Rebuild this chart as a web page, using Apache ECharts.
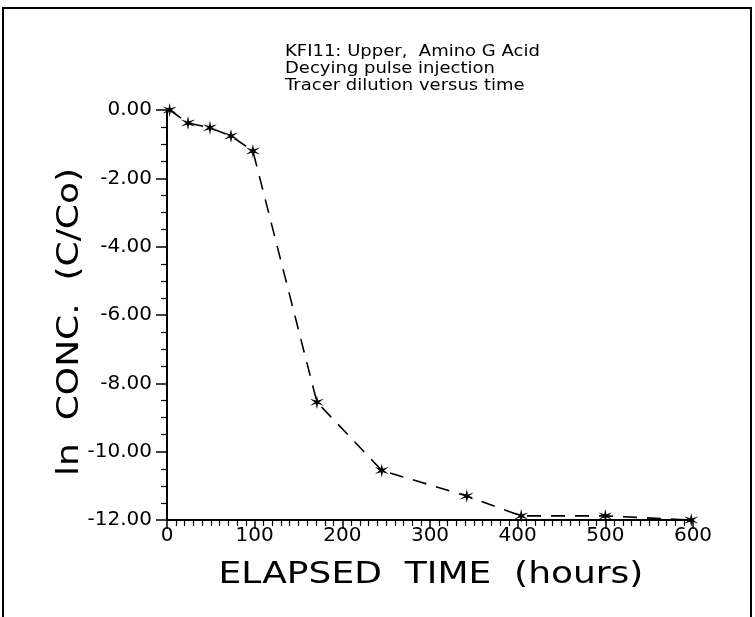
<!DOCTYPE html>
<html><head><meta charset="utf-8">
<script src="https://cdn.jsdelivr.net/npm/echarts@6/dist/echarts.min.js"></script>
<style>html,body{margin:0;padding:0;background:#fff}#c{width:755px;height:617px}</style>
</head><body><div id="c"></div>
<script>
const hours = [3, 24, 49, 73, 98, 171, 245, 342, 404, 500, 598];
const lnConc = [0.0, -0.38, -0.52, -0.76, -1.2, -8.55, -10.55, -11.3, -11.88, -11.88, -12.0];
const titleLines = ['KFI11: Upper,  Amino G Acid', 'Decying pulse injection', 'Tracer dilution versus time'];
const xName = 'ELAPSED  TIME  (hours)';
const yName = 'ln  CONC.  (C/Co)';

function asterisk() {
  let pts = [];
  for (let k = 0; k < 12; k++) {
    const a = (-90 + k * 30) * Math.PI / 180;
    const r = k % 2 === 0 ? 10 : 2.8;
    pts.push((10 + r * Math.cos(a)).toFixed(2) + ' ' + (10 + r * Math.sin(a)).toFixed(2));
  }
  return 'path://M' + pts.join(' L') + ' Z';
}

const chart = echarts.init(document.getElementById('c'), null, {renderer: 'canvas'});
const font = 'DejaVu Sans';
chart.setOption({
  animation: false,
  backgroundColor: '#fff',
  grid: {left: 167, right: 62, top: 110, bottom: 97},
  xAxis: {
    type: 'value', min: 0, max: 600, interval: 100,
    axisLine: {show: true, onZero: false, lineStyle: {color: '#000', width: 2}},
    axisTick: {show: true, length: 9, lineStyle: {color: '#000', width: 1.5}},
    minorTick: {show: true, splitNumber: 10, length: 6, lineStyle: {color: '#000', width: 1.2}},
    axisLabel: {color: '#000', fontFamily: font, fontSize: 20, margin: 6},
    splitLine: {show: false}
  },
  yAxis: {
    type: 'value', min: -12, max: 0, interval: 2,
    axisLine: {show: true, onZero: false, lineStyle: {color: '#000', width: 2}},
    axisTick: {show: true, length: 11, lineStyle: {color: '#000', width: 1.5}},
    minorTick: {show: true, splitNumber: 4, length: 6, lineStyle: {color: '#000', width: 1.2}},
    axisLabel: {color: '#000', fontFamily: font, fontSize: 20, margin: 15,
      formatter: v => v.toFixed(2)},
    splitLine: {show: false}
  },
  series: [{
    type: 'line',
    data: hours.map((h, i) => [h, lnConc[i]]),
    symbol: asterisk(), symbolSize: 14,
    itemStyle: {color: '#000'},
    lineStyle: {color: '#000', width: 1.6, type: [14, 10]},
    z: 5
  }],
  graphic: [
    {type: 'rect', shape: {x: 3, y: 8, width: 748, height: 640}, style: {fill: null, stroke: '#000', lineWidth: 2}, silent: true},
    {type: 'text', x: 285, y: 44, scaleX: 1.2, style: {text: titleLines.join('\n'), fontFamily: font, fontSize: 15, lineHeight: 17, fill: '#000'}},
    {type: 'text', x: 431, y: 575, scaleX: 1.2, style: {text: xName, fontFamily: font, fontSize: 30, fill: '#000', align: 'center', verticalAlign: 'middle'}},
    {type: 'text', x: 70, y: 322, rotation: Math.PI / 2, scaleX: 1.2, style: {text: yName, fontFamily: font, fontSize: 30, fill: '#000', align: 'center', verticalAlign: 'middle'}}
  ]
});
</script></body></html>
